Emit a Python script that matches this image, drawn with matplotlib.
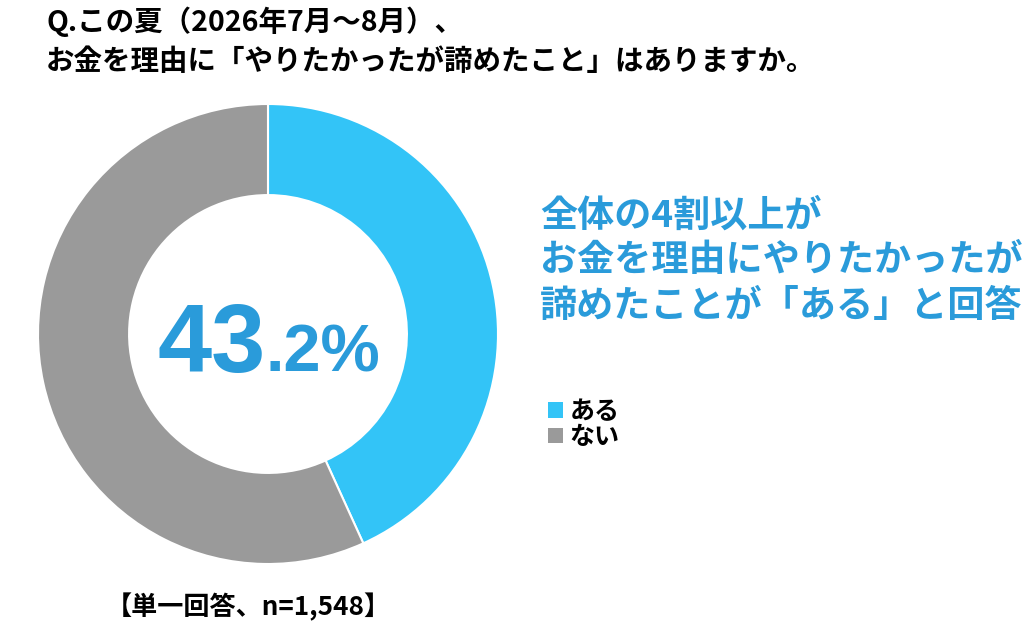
import matplotlib.pyplot as plt
from matplotlib.patches import Patch

plt.rcParams['font.family'] = ['Noto Sans CJK JP', 'DejaVu Sans']

# data
labels = ["ある", "ない"]
values = [43.2, 56.8]
colors = ["#33C4F7", "#9A9A9A"]
title_lines = ["Q.この夏（2026年7月～8月）、",
               "お金を理由に「やりたかったが諦めたこと」はありますか。"]
callout_lines = ["全体の4割以上が",
                 "お金を理由にやりたかったが",
                 "諦めたことが「ある」と回答"]
note = "【単一回答、n=1,548】"
text_blue = "#2A9BDA"

W, H = 1024, 632
fig = plt.figure(figsize=(W / 100, H / 100), dpi=100)
fig.patch.set_facecolor("white")

# donut, center (268, 334) px, radius 230 px
cx, cy, r = 268, 334, 230
ax = fig.add_axes([(cx - r) / W, (H - cy - r) / H, 2 * r / W, 2 * r / H])
wedges, _ = ax.pie(values, colors=colors, startangle=90, counterclock=False,
                   radius=1.0, wedgeprops=dict(width=0.396, edgecolor="white", linewidth=1.5))
ax.set_xlim(-1, 1)
ax.set_ylim(-1, 1)
ax.set_aspect("equal")
ax.axis("off")

# big percentage in the hole
whole, frac = f"{values[0]:.1f}".split(".")
ax.text(-0.01, -0.165, whole, ha="right", va="baseline", fontsize=70,
        fontweight="bold", color=text_blue, family=["Liberation Sans", "DejaVu Sans"])
ax.text(-0.01, -0.165, "." + frac + "%", ha="left", va="baseline", fontsize=48,
        fontweight="bold", color=text_blue, family=["Liberation Sans", "DejaVu Sans"])

# title
fig.text(46 / W, 1 - 22 / H, title_lines[0], ha="left", va="center",
         fontsize=20.5, fontweight="bold", color="black")
fig.text(46 / W, 1 - 62 / H, title_lines[1], ha="left", va="center",
         fontsize=20.5, fontweight="bold", color="black")

# callout
for i, line in enumerate(callout_lines):
    fig.text(540 / W, 1 - (216 + i * 45) / H, line, ha="left", va="center",
             fontsize=26.7, fontweight="bold", color=text_blue)

# legend
handles = [Patch(facecolor=c, edgecolor="none") for c in colors]
leg = fig.legend(handles, labels, loc="upper left", bbox_to_anchor=(538 / W, 1 - 390 / H),
                 frameon=False, fontsize=18, handlelength=0.6, handleheight=0.6,
                 handletextpad=0.25, labelspacing=0.05, borderaxespad=0)
for t in leg.get_texts():
    t.set_fontweight("bold")

# note
fig.text(106 / W, 1 - 607 / H, note, ha="left", va="center",
         fontsize=18.8, fontweight="bold", color="black")

fig.savefig("out.png", dpi=100, facecolor="white")
